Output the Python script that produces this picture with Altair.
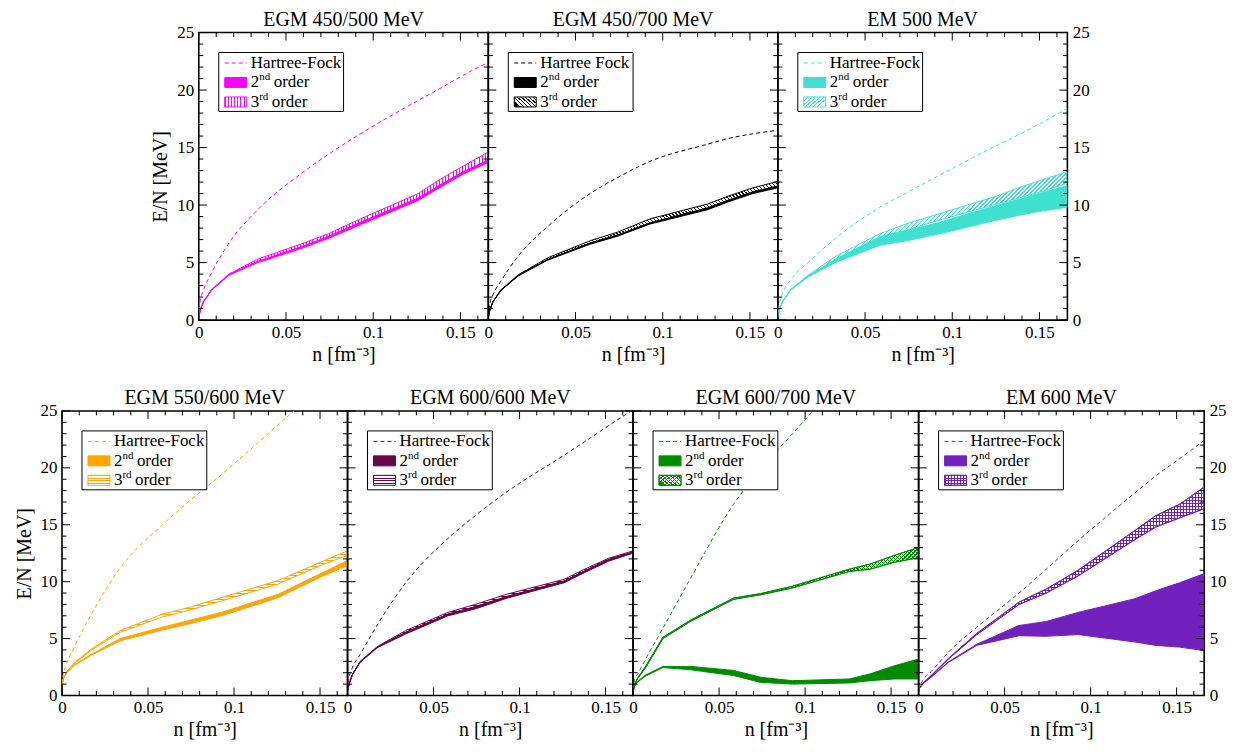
import altair as alt
import pandas as pd

# density grid [fm^-3]
N = [0.00004, 0.0009, 0.0027, 0.0073, 0.0173, 0.0338, 0.0584, 0.0742, 0.0927, 0.1258, 0.1379, 0.1517, 0.1659]

# EGM 450/500 MeV
HF_A = [0.3, 1.7, 2.6, 4.1, 6.7, 9.6, 12.7, 14.4, 16.2, 19.1, 20.1, 21.3, 22.4]
S2LO_A = [0.3, 0.9, 1.6, 2.6, 3.9, 5.0, 6.2, 7.1, 8.3, 10.4, 11.5, 12.7, 13.7]
S2HI_A = [0.3, 0.9, 1.6, 2.6, 3.95, 5.1, 6.35, 7.25, 8.5, 10.6, 11.7, 12.9, 13.9]
S3LO_A = [0.3, 0.9, 1.6, 2.6, 3.95, 5.1, 6.35, 7.25, 8.5, 10.6, 11.7, 12.9, 13.9]
S3HI_A = [0.3, 0.9, 1.6, 2.65, 4.0, 5.3, 6.6, 7.5, 8.8, 11.0, 12.2, 13.4, 14.6]

# EGM 450/700 MeV
HF_B = [0.3, 1.4, 2.2, 3.4, 5.6, 8.1, 11.0, 12.4, 13.8, 15.3, 15.8, 16.2, 16.5]
S2LO_B = [0.3, 0.9, 1.6, 2.6, 3.85, 5.2, 6.6, 7.3, 8.35, 9.6, 10.3, 11.0, 11.5]
S2HI_B = [0.3, 0.9, 1.6, 2.6, 3.9, 5.25, 6.7, 7.4, 8.45, 9.75, 10.45, 11.15, 11.65]
S3LO_B = [0.3, 0.9, 1.6, 2.6, 3.9, 5.25, 6.7, 7.4, 8.45, 9.75, 10.45, 11.15, 11.65]
S3HI_B = [0.3, 0.9, 1.6, 2.65, 3.95, 5.4, 6.9, 7.65, 8.8, 10.1, 10.8, 11.5, 12.05]

# EM 500 MeV
HF_C = [0.3, 1.4, 2.3, 3.5, 5.0, 7.2, 9.8, 11.1, 12.6, 15.2, 16.1, 17.2, 18.4]
S2LO_C = [0.3, 0.9, 1.6, 2.6, 3.75, 5.05, 6.5, 6.9, 7.5, 8.7, 9.1, 9.5, 9.8]
S2HI_C = [0.3, 0.9, 1.6, 2.6, 3.8, 5.35, 7.2, 7.8, 8.5, 10.0, 10.5, 11.1, 11.7]
S3LO_C = [0.3, 0.9, 1.6, 2.6, 3.8, 5.35, 7.25, 7.85, 8.7, 10.1, 10.6, 11.2, 11.9]
S3HI_C = [0.3, 0.9, 1.6, 2.65, 3.9, 5.6, 7.5, 8.4, 9.25, 10.8, 11.5, 12.2, 12.9]

# EGM 550/600 MeV
HF_D = [1.0, 1.9, 2.8, 4.3, 7.2, 11.2, 15.0, 17.1, 19.4, 23.8, 25.4, 27.2, 29.0]
S2LO_D = [1.0, 1.5, 2.0, 2.65, 3.55, 4.8, 5.75, 6.3, 7.0, 8.6, 9.5, 10.5, 11.4]
S2HI_D = [1.0, 1.5, 2.0, 2.7, 3.65, 5.0, 6.0, 6.6, 7.3, 8.9, 9.8, 10.8, 11.85]
S3LO_D = [1.0, 1.5, 2.05, 2.8, 4.0, 5.55, 6.9, 7.5, 8.3, 9.8, 10.6, 11.5, 12.3]
S3HI_D = [1.0, 1.5, 2.1, 2.9, 4.1, 5.7, 7.15, 7.75, 8.6, 10.1, 10.9, 11.8, 12.7]

# EGM 600/600 MeV
HF_E = [0.5, 1.6, 2.4, 3.6, 6.2, 9.9, 13.8, 15.8, 17.9, 21.1, 22.3, 23.7, 25.1]
S2LO_E = [0.5, 1.0, 1.8, 2.9, 4.2, 5.4, 7.0, 7.6, 8.55, 9.9, 10.8, 11.8, 12.5]
S2HI_E = [0.5, 1.0, 1.8, 2.95, 4.25, 5.55, 7.15, 7.8, 8.7, 10.05, 10.95, 11.95, 12.6]
S3LO_E = [0.5, 1.0, 1.8, 2.95, 4.25, 5.55, 7.15, 7.8, 8.7, 10.05, 10.95, 11.95, 12.6]
S3HI_E = [0.5, 1.0, 1.8, 3.0, 4.3, 5.7, 7.3, 8.0, 8.9, 10.2, 11.1, 12.05, 12.7]

# EGM 600/700 MeV
HF_F = [0.5, 1.4, 1.9, 3.2, 5.9, 10.4, 16.8, 19.9, 23.0, 28.6, 30.7, 33.1, 35.6]
S2LO_F = [0.4, 0.8, 1.2, 1.7, 2.45, 2.25, 1.75, 1.15, 1.0, 1.1, 1.3, 1.45, 1.45]
S2HI_F = [0.4, 0.8, 1.25, 1.8, 2.55, 2.55, 2.2, 1.6, 1.3, 1.45, 1.9, 2.6, 3.2]
S3LO_F = [0.5, 1.0, 1.5, 2.45, 5.0, 6.55, 8.45, 8.85, 9.45, 10.9, 11.1, 11.7, 12.1]
S3HI_F = [0.5, 1.0, 1.55, 2.55, 5.1, 6.65, 8.55, 8.95, 9.6, 11.1, 11.55, 12.3, 13.0]

# EM 600 MeV
HF_G = [0.5, 0.9, 1.4, 2.1, 3.8, 6.0, 9.0, 11.1, 13.6, 17.8, 19.3, 20.8, 22.4]
S2LO_G = [0.5, 0.7, 1.05, 1.6, 2.9, 4.4, 5.25, 5.2, 5.35, 4.7, 4.4, 4.25, 3.95]
S2HI_G = [0.5, 0.7, 1.05, 1.65, 2.95, 4.5, 6.15, 6.5, 7.3, 8.5, 9.2, 9.9, 10.7]
S3LO_G = [0.5, 0.75, 1.1, 1.7, 3.2, 5.35, 8.0, 9.0, 10.5, 13.7, 14.8, 15.6, 16.4]
S3HI_G = [0.5, 0.75, 1.1, 1.75, 3.25, 5.45, 8.2, 9.35, 11.0, 14.5, 15.8, 16.8, 18.3]

XMAJ = [0, 0.05, 0.1, 0.15]
XMIN = [0.01, 0.02, 0.03, 0.04, 0.06, 0.07, 0.08, 0.09, 0.11, 0.12, 0.13, 0.14, 0.16]
YMAJ = [0, 5, 10, 15, 20, 25]
YMIN = [v for v in range(1, 25) if v % 5]

FONT = "Liberation Serif"
CLEAR = "rgba(255,255,255,0)"

# hatch gradient directions (bounding-box units)
VERT = (0, 0, 1, 0)
HORI = (0, 0, 0, 1)
DIAG_UP = (0, 0, 1, 0.5)   # "////"
DIAG_DN = (0, 0.5, 1, 0)   # "\\\\"


def stripes(color, n, d, duty=0.32):
    stops = []
    for i in range(n):
        a = round(i / n, 6)
        b = round((i + duty) / n, 6)
        c = round((i + 1) / n, 6)
        stops += [alt.GradientStop(offset=a, color=color), alt.GradientStop(offset=b, color=color),
                  alt.GradientStop(offset=b, color=CLEAR), alt.GradientStop(offset=c, color=CLEAR)]
    return alt.LinearGradient(gradient="linear", stops=stops, x1=d[0], y1=d[1], x2=d[2], y2=d[3])


def panel(title, color, hf, s2lo, s2hi, s3lo, s3hi, hatches, hf_label, yside, W, H):
    df = pd.DataFrame({"n": N, "hf": hf, "s2lo": s2lo, "s2hi": s2hi, "s3lo": s3lo, "s3hi": s3hi})
    xs = alt.Scale(domain=[0, 0.166], nice=False, zero=False)
    ys = alt.Scale(domain=[0, 25], nice=False, zero=False)
    xaxis = alt.Axis(values=XMAJ, format="~g", ticks=False, domain=False, grid=False,
                     labelFlush=False, labelOverlap=False, labelPadding=4, labelFontSize=17,
                     title="n [fm⁻³]", titleFontSize=20, titlePadding=4)
    common = dict(values=YMAJ, ticks=False, domain=False, grid=False, labelPadding=5, labelFontSize=17,
                  labelFlush=False, labelOverlap=False)
    if yside == "left":
        yaxis = alt.Axis(orient="left", title="E/N [MeV]", titleFontSize=20, titlePadding=6, **common)
    elif yside == "right":
        yaxis = alt.Axis(orient="right", title=None, **common)
    else:
        yaxis = alt.Axis(orient="left", title=None, labelOpacity=0, **common)

    def X(f):
        return alt.X(f"{f}:Q", scale=xs, axis=xaxis)

    def Y(f):
        return alt.Y(f"{f}:Q", scale=ys, axis=yaxis)

    base = alt.Chart(df)
    layers = [base.mark_area(fill=color, stroke=color, strokeWidth=1, clip=True)
              .encode(x=X("n"), y=Y("s2lo"), y2="s2hi")]
    for d, nb, nl in hatches:
        layers.append(base.mark_area(fill=stripes(color, nb, d), stroke=color, strokeWidth=1, clip=True)
                      .encode(x=X("n"), y=Y("s3lo"), y2="s3hi"))
    layers.append(base.mark_line(color=color, strokeDash=[4, 3], strokeWidth=1, clip=True, interpolate="monotone")
                  .encode(x=X("n"), y=Y("hf")))

    # inward ticks on all four sides
    for vals, L in ((XMAJ, 8), (XMIN, 4.5)):
        d = alt.Chart(pd.DataFrame({"v": vals}))
        layers.append(d.mark_rule(color="black", strokeWidth=1)
                      .encode(x=X("v"), y=alt.value(H), y2=alt.value(H - L)))
        layers.append(d.mark_rule(color="black", strokeWidth=1)
                      .encode(x=X("v"), y=alt.value(0), y2=alt.value(L)))
    for vals, L in ((YMAJ, 8), (YMIN, 4.5)):
        d = alt.Chart(pd.DataFrame({"v": vals}))
        layers.append(d.mark_rule(color="black", strokeWidth=1)
                      .encode(y=Y("v"), x=alt.value(0), x2=alt.value(L)))
        layers.append(d.mark_rule(color="black", strokeWidth=1)
                      .encode(y=Y("v"), x=alt.value(W - L), x2=alt.value(W)))

    # legend box
    one = alt.Chart(pd.DataFrame({"k": [0]}))
    lx, ly = 20, 20
    r1, r2, r3 = ly + 10.5, ly + 30, ly + 49.5
    layers.append(one.mark_rect(fill="white", stroke="black", strokeWidth=1)
                  .encode(x=alt.value(lx), x2=alt.value(lx + 125), y=alt.value(ly), y2=alt.value(ly + 59)))
    layers.append(one.mark_rule(color=color, strokeDash=[4, 3], strokeWidth=1)
                  .encode(x=alt.value(lx + 6), x2=alt.value(lx + 28), y=alt.value(r1)))
    layers.append(one.mark_rect(fill=color, stroke=color, strokeWidth=1)
                  .encode(x=alt.value(lx + 6), x2=alt.value(lx + 28), y=alt.value(r2 - 5), y2=alt.value(r2 + 5)))
    for d, nb, nl in hatches:
        layers.append(one.mark_rect(fill=stripes(color, nl, d), stroke=color, strokeWidth=1)
                      .encode(x=alt.value(lx + 6), x2=alt.value(lx + 28), y=alt.value(r3 - 5), y2=alt.value(r3 + 5)))

    def txt(s, x, y, size=17):
        return one.mark_text(text=s, align="left", baseline="middle", font=FONT, fontSize=size,
                             color="black").encode(x=alt.value(x), y=alt.value(y))

    layers += [txt(hf_label, lx + 32, r1),
               txt("2", lx + 32, r2), txt("nd", lx + 40.5, r2 - 5, 11), txt("order", lx + 55, r2),
               txt("3", lx + 32, r3), txt("rd", lx + 40.5, r3 - 5, 11), txt("order", lx + 53, r3)]

    return alt.layer(*layers).properties(
        width=W, height=H,
        title=alt.TitleParams(title, font=FONT, fontSize=20, fontWeight="normal", color="black", offset=-6))


TW, TH = 290, 288
BW, BH = 286, 285

p1 = panel("EGM 450/500 MeV", "#FF00FF", HF_A, S2LO_A, S2HI_A, S3LO_A, S3HI_A,
           [(VERT, 100, 7)], "Hartree-Fock", "left", TW, TH)
p2 = panel("EGM 450/700 MeV", "#000000", HF_B, S2LO_B, S2HI_B, S3LO_B, S3HI_B,
           [(DIAG_DN, 90, 7)], "Hartree Fock", None, TW, TH)
p3 = panel("EM 500 MeV", "#40E0D0", HF_C, S2LO_C, S2HI_C, S3LO_C, S3HI_C,
           [(DIAG_UP, 90, 7)], "Hartree-Fock", "right", TW, TH)
p4 = panel("EGM 550/600 MeV", "#FFA500", HF_D, S2LO_D, S2HI_D, S3LO_D, S3HI_D,
           [(HORI, 44, 4)], "Hartree-Fock", "left", BW, BH)
p5 = panel("EGM 600/600 MeV", "#670748", HF_E, S2LO_E, S2HI_E, S3LO_E, S3HI_E,
           [(HORI, 46, 4)], "Hartree-Fock", None, BW, BH)
p6 = panel("EGM 600/700 MeV", "#008B00", HF_F, S2LO_F, S2HI_F, S3LO_F, S3HI_F,
           [(DIAG_UP, 90, 7), (DIAG_DN, 90, 7)], "Hartree-Fock", None, BW, BH)
p7 = panel("EM 600 MeV", "#7221BC", HF_G, S2LO_G, S2HI_G, S3LO_G, S3HI_G,
           [(VERT, 95, 7), (HORI, 65, 4)], "Hartree-Fock", "right", BW, BH)

top = alt.hconcat(p1, p2, p3, spacing=0, bounds="flush")
bottom = alt.hconcat(p4, p5, p6, p7, spacing=0, bounds="flush")

chart = alt.vconcat(top, bottom, spacing=22, center=True).properties(
    padding={"left": 5, "top": 0, "right": 5, "bottom": 0}
).configure_view(stroke="black", strokeWidth=1.6).configure_axis(
    labelFont=FONT, titleFont=FONT, labelColor="black", titleColor="black", titleFontWeight="normal"
).configure_title(font=FONT, fontSize=20, fontWeight="normal", color="black")

chart.save("out.html", embed_options={"renderer": "svg", "actions": False})
